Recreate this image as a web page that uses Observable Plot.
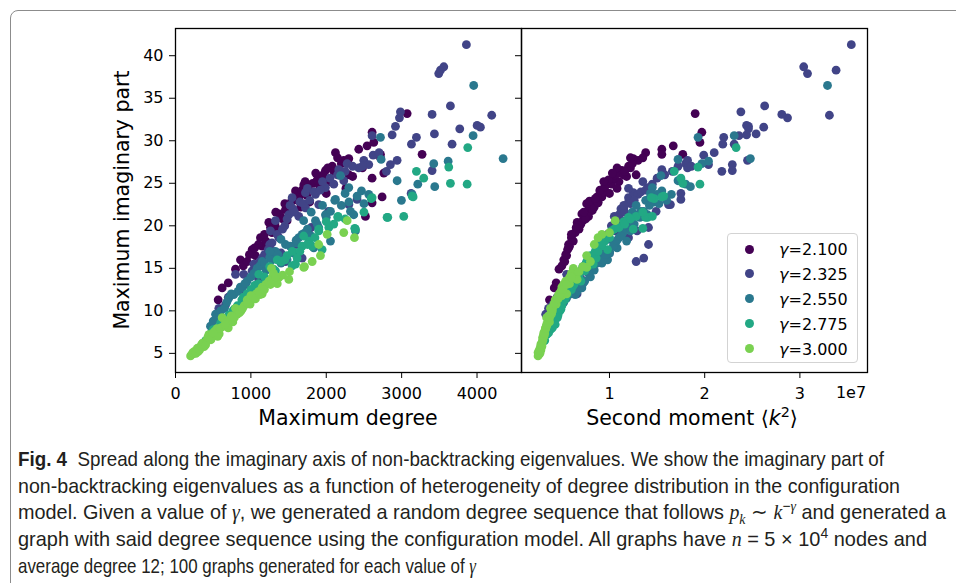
<!DOCTYPE html>
<html>
<head>
<meta charset="utf-8">
<script src="https://cdn.jsdelivr.net/npm/d3@7"></script>
<script src="https://cdn.jsdelivr.net/npm/@observablehq/plot@0.6"></script>
<style>
  body { margin: 0; background: #fff; }
  #page { position: relative; width: 956px; height: 583px; overflow: hidden; background: #fff; font-family: "DejaVu Sans", sans-serif; color: #000; }
  #border { position: absolute; left: 10px; top: 10px; width: 1000px; height: 1000px; border: 1.5px solid #8c8c8c; border-radius: 8px; box-sizing: border-box; }
  .abs { position: absolute; white-space: nowrap; }
  .plotbox { position: absolute; top: 0; }
  .axlabel { font-size: 20.5px; transform: translate(-50%, -50%); }
  #ylab { left: 122px; top: 200px; transform: translate(-50%, -50%) rotate(-90deg); font-size: 20.5px; }
  #legend { position: absolute; left: 727px; top: 233px; width: 131px; height: 130px; border: 1px solid #d3d3d3; border-radius: 4px; background: rgba(255,255,255,0.85); box-sizing: border-box; }
  .lrow { position: absolute; left: 0; height: 0; }
  .lmark { position: absolute; width: 9px; height: 9px; border-radius: 50%; left: 17px; top: -4.5px; }
  .ltext { position: absolute; left: 51px; top: 0; transform: translateY(-50%); font-size: 16px; white-space: nowrap; }
  .cap { position: absolute; left: 18px; white-space: nowrap; font-family: "Liberation Sans Narrow", "Liberation Sans", sans-serif; font-size: 21px; color: #231f20; transform-origin: 0 50%; line-height: 1; }
  .cap i { font-family: "Liberation Serif", serif; }
  sub, sup { font-size: 0.7em; line-height: 0; }
</style>
</head>
<body>
<div id="page">
  <div id="border"></div>
  <div id="left" class="plotbox" style="left:0px"></div>
  <div id="right" class="plotbox" style="left:501px"></div>
  <div id="ylab" class="abs">Maximum imaginary part</div>
  <div class="abs axlabel" style="left:348px; top:418px">Maximum degree</div>
  <div class="abs axlabel" style="left:692px; top:418px">Second moment ⟨<i>k</i><sup>2</sup>⟩</div>
  <div class="abs" style="left:851px; top:392px; transform:translate(-50%,-50%); font-size:16px">1e7</div>
  <div id="legend"></div>
  <div class="cap" data-w="866" style="top:458px"><b>Fig. 4</b>&nbsp; Spread along the imaginary axis of non-backtracking eigenvalues. We show the imaginary part of</div>
  <div class="cap" data-w="882" style="top:485px">non-backtracking eigenvalues as a function of heterogeneity of degree distribution in the configuration</div>
  <div class="cap" data-w="928" style="top:512px">model. Given a value of <i>γ</i>, we generated a random degree sequence that follows <i>p<sub>k</sub></i> ∼ <i>k</i><sup>−<i>γ</i></sup> and generated a</div>
  <div class="cap" data-w="909" style="top:539px">graph with said degree sequence using the configuration model. All graphs have <i>n</i> = 5 × 10<sup>4</sup> nodes and</div>
  <div class="cap" data-w="458" style="top:566px">average degree 12; 100 graphs generated for each value of <i>γ</i></div>
</div>
<script>
// ---- data ----
const gammas = ["2.100", "2.325", "2.550", "2.775", "3.000"];
const colors = ["#440154", "#414487", "#2a788e", "#22a884", "#7ad151"];

// gamma = 2.100
const deg2100 = [566,619,700,796,862,900,950,1017,1060,1127,1150,1200,1238,1280,1320,1350,1400,1459,1480,1520,1560,1592,1620,1660,1702,1740,1780,1820,1850,1901,1940,1989,2000,2050,2080,2122,2160,2233,2260,2299,2350,2431,2480,2520,2542,2608,2608,2608,2630,2719,2719,2741,2763,3073,3271,1100,1300,1450,1700,980,
  1180,1260,1380,1420,1540,1640,1680,1760,1880,1960,2020,2100,2200,2300,1580,1720,1860,2150,1050,1330];
const mom2100 = [0.37,0.42,0.44,0.47,0.52,0.50,0.53,0.56,0.55,0.60,0.58,0.62,0.66,0.64,0.70,0.68,0.74,0.78,0.72,0.80,0.82,0.90,0.86,0.84,0.96,0.92,0.88,1.00,0.96,1.02,1.05,1.13,1.00,1.10,1.20,1.38,1.15,1.30,1.08,1.25,1.18,1.55,1.22,0.78,1.67,1.97,0.88,1.05,1.95,1.55,1.35,0.92,1.12,1.90,1.77,0.57,0.67,0.76,0.92,0.54,
  0.60,0.65,0.71,0.75,0.79,0.87,0.90,0.95,0.99,1.06,1.08,1.16,1.24,1.28,0.85,0.94,1.03,1.22,0.57,0.73];
const imag2100 = [11.3,12.7,13.3,14.9,16.0,15.3,15.8,17.2,16.5,18.6,17.6,18.2,20.4,19.2,20.2,19.6,21.0,21.9,20.6,22.4,21.8,24.1,23.0,22.2,24.8,23.6,22.8,25.0,24.0,24.9,25.6,26.5,23.8,25.2,27.0,28.6,26.0,27.7,24.4,27.9,25.8,29.0,26.8,21.1,29.4,31.0,22.7,25.6,29.8,28.4,28.0,23.4,26.2,33.2,28.4,17.8,20.0,22.6,23.9,16.6,
  19.0,19.8,21.4,20.8,22.9,23.4,24.2,24.6,25.4,26.0,26.8,26.4,27.3,26.0,23.2,25.2,26.2,28.0,17.4,21.6];

// gamma = 2.325
const deg2325 = [560,575,663,700,796,850,906,928,1000,1017,1039,1100,1150,1200,1260,1300,1326,1370,1400,1459,1503,1547,1600,1636,1680,1724,1724,1760,1800,1857,1900,1989,2030,2100,2166,2232,2277,2300,2409,2431,2498,2564,2608,2622,2798,2851,2874,2918,2940,2971,2984,3130,3196,3404,3404,3126,3435,3492,3515,3559,3647,3669,3771,3859,4001,4045,4195,1250,1350,1450,1560,1650,1750,1950,
  1120,1180,1280,1420,1480,1580,1700,1780,1840,1920,2050,2150,2250,2350,1230,1520,2480,2700];
const mom2325 = [0.33,0.36,0.40,0.45,0.55,0.52,0.62,0.58,0.66,0.70,0.75,0.70,0.86,0.80,1.06,0.95,1.13,1.20,1.00,1.28,1.10,1.20,1.41,1.05,1.36,1.15,1.25,1.29,1.41,1.30,1.62,1.40,1.49,1.45,1.55,1.75,1.80,1.64,1.75,1.82,1.82,2.04,2.36,1.99,2.18,2.29,2.44,2.46,2.45,2.87,2.38,2.31,2.20,2.81,2.29,1.75,2.54,3.08,3.38,3.04,2.63,2.19,2.46,3.54,2.44,2.62,3.31,0.90,0.98,1.02,1.12,1.20,1.20,1.35,
  0.78,0.84,0.92,1.05,1.08,1.16,1.22,1.26,1.33,1.38,1.50,1.58,1.66,1.72,0.88,1.15,1.86,2.10];
const imag2325 = [9.6,10.3,10.7,11.6,14.3,12.4,14.3,13.1,12.0,14.7,15.5,13.8,16.2,15.0,19.4,17.0,20.6,18.6,16.8,15.8,21.3,23.3,17.8,21.1,16.2,22.1,23.9,19.4,19.8,23.7,22.5,24.5,21.7,24.9,26.6,25.3,27.3,22.5,23.1,26.8,27.7,27.2,30.6,28.3,26.4,27.2,30.7,31.7,27.7,32.7,33.4,29.6,30.4,33.1,26.5,23.8,30.8,37.9,38.3,38.7,34.1,29.6,31.4,41.3,31.8,31.6,33.0,17.8,19.0,20.0,22.0,22.8,24.4,25.2,
  15.8,16.6,18.0,19.6,20.8,21.6,22.6,23.0,24.0,24.2,25.6,26.0,26.4,27.0,17.2,22.4,27.0,28.6];

// gamma = 2.550
const deg2550 = [464,500,531,600,650,707,773,830,884,950,1000,1083,1120,1150,1200,1250,1326,1326,1400,1459,1481,1570,1636,1680,1750,1834,1857,1900,1989,2056,2056,2122,2188,2113,2299,2321,2365,2387,2409,2467,2564,2719,2728,2940,2997,3139,3214,3426,3439,3617,3948,3956,4346,2300,1600,1700,1800,1950,1400,1250,
  560,680,740,860,920,1040,1180,1280,1360,1520,1600,1720,1800,1880,2000,2200,2250,2500];
const mom2550 = [0.38,0.40,0.43,0.46,0.48,0.55,0.64,0.66,0.71,0.74,0.80,0.83,0.81,0.86,0.84,0.90,0.95,1.00,0.92,1.05,0.98,1.00,1.10,1.13,1.16,1.08,1.23,1.20,1.30,1.18,1.33,1.41,1.54,1.38,1.45,1.36,1.40,1.22,1.48,1.55,1.50,1.93,1.72,1.72,1.60,1.65,1.80,1.97,1.85,2.04,2.31,3.29,2.48,1.47,1.06,1.18,1.24,1.28,1.00,0.88,
  0.45,0.52,0.60,0.68,0.72,0.78,0.87,0.93,0.96,1.04,1.08,1.14,1.12,1.26,1.32,1.42,1.43,1.52];
const imag2550 = [8.2,8.8,9.6,10.0,10.3,11.5,11.9,12.3,12.7,13.5,14.0,15.0,15.3,15.8,14.8,16.3,16.2,17.0,15.6,17.8,16.0,16.8,18.6,19.0,19.6,17.4,20.6,19.8,21.3,18.2,21.7,23.1,25.9,23.0,24.5,21.7,21.3,19.4,23.5,24.1,23.7,30.4,27.8,25.3,23.0,23.7,24.9,27.3,24.6,27.6,30.6,36.5,27.9,22.8,18.0,20.6,21.6,22.4,18.4,17.0,
  9.2,11.0,12.0,12.8,13.2,14.4,15.6,16.0,16.6,17.6,18.3,19.2,18.8,20.2,21.0,22.4,23.8,22.6];

// gamma = 2.775
const deg2775 = [400,450,500,560,641,707,760,820,880,950,1000,1050,1105,1180,1250,1326,1400,1480,1547,1592,1613,1680,1768,1813,1901,1901,1945,2034,2153,2156,2378,2387,2596,2608,2807,2816,3028,3139,3152,3196,3293,3625,3647,3869,3877,1200,1350,1550,1700,2000,
  480,600,680,780,900,1100,1300,1450,1650,1750,1850,2100,2250,2500];
const mom2775 = [0.32,0.34,0.38,0.40,0.43,0.46,0.48,0.50,0.53,0.56,0.60,0.62,0.66,0.68,0.72,0.74,0.76,0.80,0.78,0.83,0.86,0.90,0.95,0.92,1.02,1.05,0.98,1.10,1.20,1.28,1.35,1.25,1.47,1.44,1.40,1.38,1.45,1.57,1.55,1.68,1.75,1.93,1.77,1.95,2.33,0.70,0.78,0.85,0.93,1.15,
  0.36,0.41,0.45,0.49,0.54,0.63,0.73,0.79,0.88,0.92,1.00,1.16,1.22,1.35];
const imag2775 = [6.5,7.2,7.8,8.0,8.4,9.5,10.0,10.6,11.3,12.0,12.5,13.0,14.3,14.0,15.2,14.7,15.8,16.5,15.3,15.5,16.2,17.6,18.2,17.6,19.4,19.6,17.2,19.8,21.0,21.1,19.7,19.6,23.2,23.3,21.0,21.0,21.1,23.5,23.4,26.4,25.6,26.9,25.0,24.9,29.2,13.5,16.0,17.0,18.8,20.5,
  7.4,8.6,9.2,10.2,11.6,13.2,14.9,16.0,17.0,17.8,18.6,20.2,20.8,21.6];

// gamma = 3.000
const deg3000 = [200,220,243,260,290,310,340,360,380,410,442,460,490,520,550,580,619,640,680,720,760,796,820,870,910,951,990,1030,1070,1105,1150,1200,1240,1273,1282,1300,1370,1420,1503,1512,1702,1711,1813,1923,2012,2232,2277,2374,1000,1150,700,560,300,1350,1900,
  230,270,320,350,400,430,470,500,600,660,740,780,850,890,960,1060,1120,1180,1260,1330];
const mom3000 = [0.25,0.26,0.27,0.26,0.27,0.28,0.28,0.29,0.29,0.30,0.31,0.30,0.31,0.32,0.33,0.32,0.34,0.34,0.35,0.36,0.37,0.38,0.39,0.40,0.41,0.43,0.44,0.46,0.47,0.49,0.50,0.52,0.54,0.62,0.58,0.60,0.62,0.64,0.66,0.68,0.76,0.72,0.80,0.76,0.92,1.00,1.06,0.88,0.50,0.55,0.33,0.31,0.27,0.58,0.84,
  0.25,0.26,0.27,0.28,0.29,0.30,0.30,0.31,0.33,0.34,0.36,0.37,0.39,0.40,0.42,0.46,0.48,0.51,0.55,0.60];
const imag3000 = [4.7,4.9,5.0,5.3,5.6,5.4,5.9,6.2,5.8,6.5,7.2,6.8,7.0,7.6,7.9,7.3,9.2,8.2,8.6,9.0,8.7,10.3,9.6,10.0,10.6,11.3,10.8,11.7,12.0,12.3,12.8,13.1,13.5,15.0,13.9,14.4,13.9,14.2,13.7,14.6,15.1,15.2,15.8,16.5,19.0,19.2,20.6,18.6,11.8,12.0,8.0,7.0,5.2,13.2,17.8,
  5.1,5.0,5.4,6.1,6.0,6.9,6.6,7.4,8.0,8.4,9.4,9.2,9.8,10.3,10.9,11.4,11.9,12.5,13.1,14.0];

const yTicks = [5, 10, 15, 20, 25, 30, 35, 40];
const xTicksDeg = [0, 1000, 2000, 3000, 4000];
const xTicksMom = [1, 2, 3]; // ×1e7

// ---- build table ----
const series = [
  [deg2100, mom2100, imag2100],
  [deg2325, mom2325, imag2325],
  [deg2550, mom2550, imag2550],
  [deg2775, mom2775, imag2775],
  [deg3000, mom3000, imag3000]
];
const rows = [];
series.forEach(([d, m, im], gi) => {
  d.forEach((v, i) => rows.push({gamma: gammas[gi], deg: v, mom: m[i], imag: im[i]}));
});

const yDomain = [2.75, 43.2];
const common = {
  height: 440,
  marginTop: 28,
  marginBottom: 68,
  style: {background: "transparent", fontFamily: "DejaVu Sans", fontSize: "16px", color: "#000", overflow: "visible"},
  color: {domain: gammas, range: colors},
  y: {domain: yDomain}
};

const leftPlot = Plot.plot({
  ...common,
  width: 521,
  marginLeft: 175,
  marginRight: 0,
  x: {domain: [0, 4590]},
  marks: [
    Plot.dot(rows, {x: "deg", y: "imag", fill: "gamma", r: 4.4}),
    Plot.frame({stroke: "#000", strokeWidth: 1.3}),
    Plot.axisX({ticks: xTicksDeg, tickSize: 6, tickPadding: 9, label: null, fontSize: 16, tickFormat: d => String(d)}),
    Plot.axisY({ticks: yTicks, tickSize: 6, tickPadding: 6, label: null, fontSize: 16, tickFormat: d => String(d)})
  ]
});

const rightPlot = Plot.plot({
  ...common,
  width: 455,
  marginLeft: 20,
  marginRight: 89,
  x: {domain: [0.076, 3.71]},
  marks: [
    Plot.dot(rows, {x: "mom", y: "imag", fill: "gamma", r: 4.4}),
    Plot.frame({stroke: "#000", strokeWidth: 1.3}),
    Plot.axisX({ticks: xTicksMom, tickSize: 6, tickPadding: 9, label: null, fontSize: 16, tickFormat: d => String(d)}),
    Plot.axisY({ticks: yTicks, tickSize: 6, label: null, tickFormat: () => ""})
  ]
});

document.getElementById("left").appendChild(leftPlot);
document.getElementById("right").appendChild(rightPlot);

// ---- legend ----
const legend = document.getElementById("legend");
gammas.forEach((g, i) => {
  const row = document.createElement("div");
  row.className = "lrow";
  row.style.top = (15 + 24.9 * i) + "px";
  row.innerHTML = `<span class="lmark" style="background:${colors[i]}"></span><span class="ltext"><i>γ</i>=${g}</span>`;
  legend.appendChild(row);
});

// ---- fit caption lines to their measured widths ----
document.querySelectorAll(".cap").forEach(el => {
  const target = +el.dataset.w;
  const w = el.getBoundingClientRect().width;
  el.style.transform = `translateY(-50%) scaleX(${target / w})`;
});
</script>
</body>
</html>
